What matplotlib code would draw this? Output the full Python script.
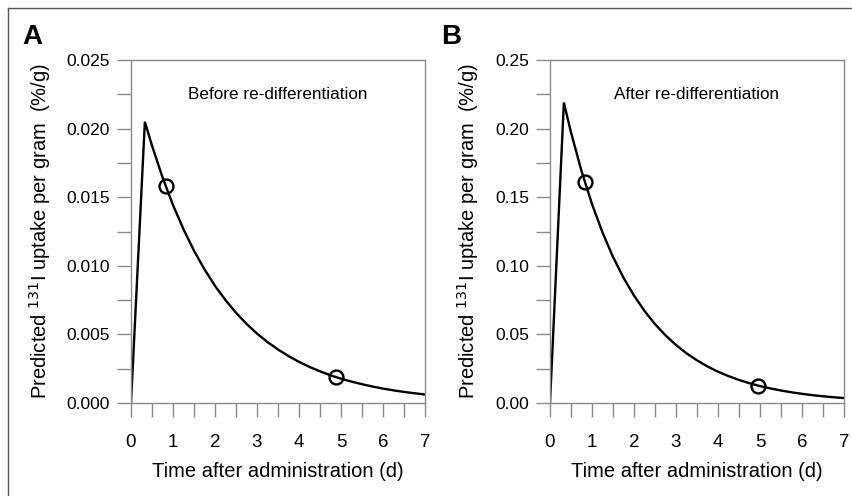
import matplotlib.pyplot as plt
from matplotlib.lines import Line2D

plt.rcParams['font.family'] = ['Liberation Sans', 'DejaVu Sans']

# time points (d)
t = [0, 0.33, 0.5, 0.75, 1.0, 1.25, 1.5, 1.75, 2.0, 2.25, 2.5, 2.75, 3.0,
     3.25, 3.5, 3.75, 4.0, 4.25, 4.5, 4.75, 5.0, 5.25, 5.5, 5.75, 6.0,
     6.25, 6.5, 6.75, 7.0]

# panel A: before re-differentiation
before = [0, 0.0205, 0.01876, 0.01645, 0.01443, 0.01266, 0.01110, 0.00974,
          0.00854, 0.00750, 0.00658, 0.00577, 0.00506, 0.00444, 0.00390,
          0.00342, 0.00300, 0.00263, 0.00231, 0.00202, 0.00177, 0.00156,
          0.00137, 0.00120, 0.00105, 0.00092, 0.00081, 0.00071, 0.00062]
before_t_meas = [0.83, 4.87]
before_meas = [0.0158, 0.0019]

# panel B: after re-differentiation
after = [0, 0.219, 0.1972, 0.1691, 0.1450, 0.1243, 0.1065, 0.0913, 0.0783,
         0.0671, 0.0575, 0.0493, 0.0423, 0.0362, 0.0311, 0.0266, 0.0228,
         0.0196, 0.0168, 0.0144, 0.0123, 0.0106, 0.0091, 0.0078, 0.0067,
         0.0057, 0.0049, 0.0042, 0.0036]
after_t_meas = [0.83, 4.95]
after_meas = [0.161, 0.0127]

fig = plt.figure(figsize=(8.53, 4.96), dpi=100)
W, H = 853, 496

# grey frame (only left and top are visible in the crop)
fig.add_artist(Line2D([8 / W, 8 / W], [0, 1 - 8 / H], color='#555555', lw=1.0,
                      transform=fig.transFigure))
fig.add_artist(Line2D([8 / W, 1], [1 - 8 / H, 1 - 8 / H], color='#555555', lw=1.0,
                      transform=fig.transFigure))

ylabel = 'Predicted $^{131}$I uptake per gram  (%/g)'
panels = [
    (131, before, before_t_meas, before_meas, 0.025, 0.005, '{:.3f}',
     'Before re-differentiation', 'A'),
    (550, after, after_t_meas, after_meas, 0.25, 0.05, '{:.2f}',
     'After re-differentiation', 'B'),
]

for left, y, tm, ym, ymax, step, fmt, note, letter in panels:
    ax = fig.add_axes([left / W, 1 - 403 / H, 294 / W, (403 - 60) / H])
    ax.plot(t, y, color='black', lw=1.7, solid_joinstyle='miter')
    ax.plot(tm, ym, 'o', ms=10, mfc='none', mec='black', mew=1.7)
    ax.set_xlim(0, 7)
    ax.set_ylim(0, ymax)
    ax.set_xticks(range(8))
    ax.set_xticks([i + 0.5 for i in range(7)], minor=True)
    yt = [i * step for i in range(6)]
    ax.set_yticks(yt)
    ax.set_yticklabels([fmt.format(v) for v in yt])
    ax.set_yticks([v + step / 2 for v in yt[:-1]], minor=True)
    for s in ax.spines.values():
        s.set_color('#8a8a8a')
        s.set_linewidth(1.0)
    ax.tick_params(which='both', direction='out', length=10, width=1.0,
                   color='#8a8a8a', labelsize=12.5)
    ax.tick_params(axis='x', which='major', pad=12, labelsize=13.5)
    ax.tick_params(axis='y', which='major', pad=5)
    ax.set_xlabel('Time after administration (d)', fontsize=14.5, labelpad=8)
    ax.set_ylabel(ylabel, fontsize=14.5, labelpad=10)
    ax.text(0.5, 0.9, note, transform=ax.transAxes, ha='center', va='center',
            fontsize=12.3)
    fig.text((left - 109) / W, 1 - 37 / H, letter, fontsize=20,
             fontweight='bold', ha='left', va='center')

fig.savefig('out.png', dpi=100)
